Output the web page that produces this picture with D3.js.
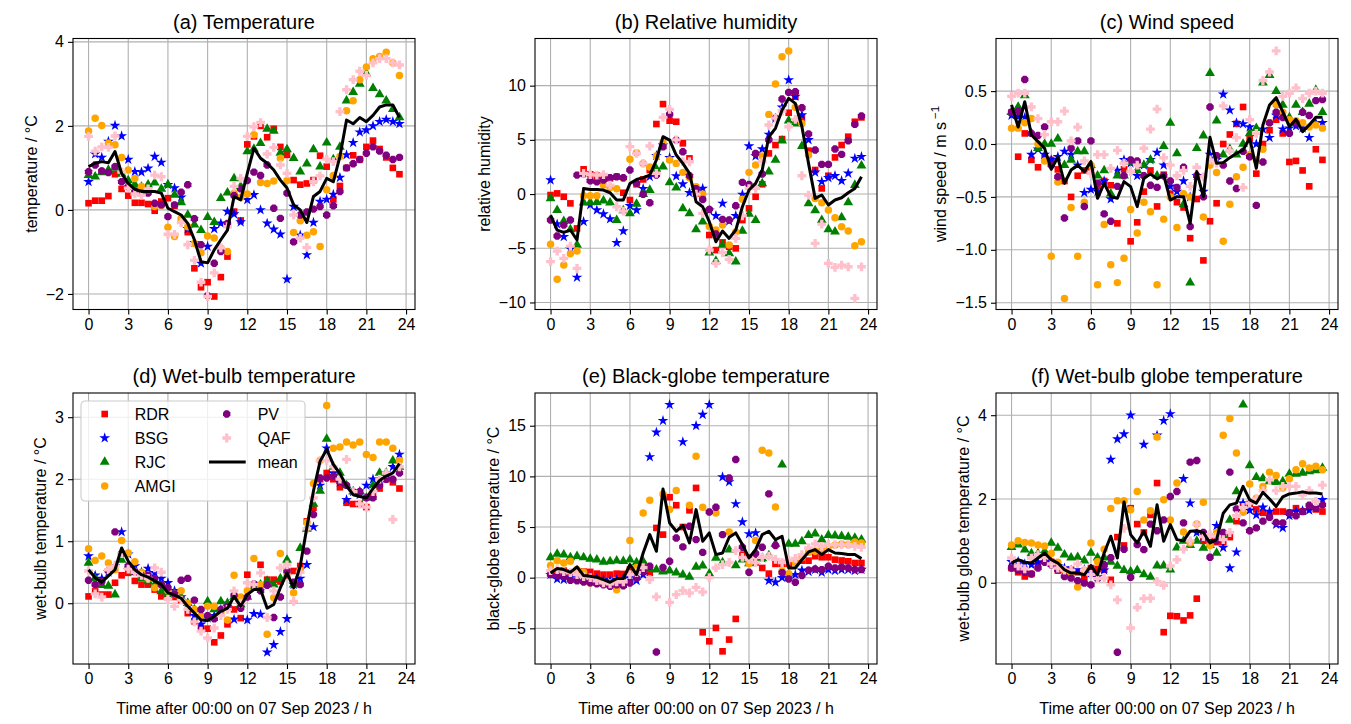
<!DOCTYPE html>
<html><head><meta charset="utf-8">
<script src="https://cdn.jsdelivr.net/npm/d3@7"></script>
<style>
body{margin:0;background:#fff}
svg{display:block}
text{font-family:"Liberation Sans",Arial,Helvetica,sans-serif;fill:#000}
</style>
</head><body>
<svg id="chart" width="1351" height="724"></svg>
<script>
// ---------------- DATA ----------------
const hours = [0,0.5,1,1.5,2,2.5,3,3.5,4,4.5,5,5.5,6,6.5,7,7.5,8,8.5,9,9.5,10,10.5,11,11.5,
               12,12.5,13,13.5,14,14.5,15,15.5,16,16.5,17,17.5,18,18.5,19,19.5,20,20.5,21,21.5,22,22.5,23,23.5];
const xTickValues = [0,3,6,9,12,15,18,21,24];
const seriesNames = ["RDR","BSG","RJC","AMGI","PV","QAF"];

// (a) Temperature
const tempRDR  = [0.16,0.22,0.22,0.33,0.85,0.5,0.34,0.17,0.17,0.14,-0.02,0.2,0.28,0.1,-0.24,-0.53,-1.39,-1.84,-1.72,-2.06,-1.6,-1.11,-0.04,-0.25,1.56,1.75,2.0,1.73,1.93,1.5,1.31,0.71,0.6,0.63,0.71,1.29,1.03,0.25,0.57,1.0,1.3,1.2,1.5,1.65,1.45,1.25,1.0,0.85];
const tempBSG  = [0.67,1.33,1.25,1.63,2.01,1.76,1.2,0.91,0.9,0.99,1.27,1.13,0.6,0.52,0.3,-0.45,-0.78,-1.27,-0.87,-0.45,-0.32,-0.04,-0.1,-0.29,0.24,0.36,0.0,-0.32,-0.46,-0.58,-1.65,0.08,-0.6,-1.07,-0.3,0.2,0.25,0.37,0.77,1.31,1.6,1.85,1.9,2.0,2.1,2.15,2.1,2.05];
const tempRJC  = [0.83,0.79,0.89,0.95,1.0,0.86,0.7,0.6,0.55,0.6,0.65,0.5,0.6,0.36,0.18,-0.12,-0.35,-0.48,-0.17,-0.29,0.28,0.41,0.75,0.56,1.39,1.45,1.59,1.93,1.88,1.36,1.44,1.23,0.91,1.1,1.44,1.03,1.6,1.2,1.5,2.6,2.8,3.0,3.25,2.9,2.75,2.6,2.4,2.2];
const tempAMGI = [1.88,2.18,2.01,1.59,1.55,1.25,0.95,0.75,0.56,0.45,0.08,0.1,-0.41,-0.63,-0.21,-0.4,-0.8,-1.02,-0.62,-0.67,-0.91,-0.99,0.4,0.3,0.38,1.79,0.65,0.63,0.69,1.23,0.7,-0.54,-0.26,-0.6,-0.52,-0.87,0.48,0.82,1.27,2.36,2.6,3.1,3.4,3.6,3.65,3.75,3.5,3.2];
const tempPV   = [0.91,1.07,0.93,0.89,1.03,0.67,0.55,0.45,0.4,0.4,0.16,0.12,-0.16,0.12,0.42,0.6,-0.21,-0.83,-2.04,-1.27,-0.99,-0.32,0.34,0.5,0.7,0.9,0.82,1.07,0.04,-0.2,0.4,-0.76,-0.12,-0.05,0.02,0.08,-0.12,0.1,0.44,1.0,1.1,1.2,1.35,1.5,1.4,1.3,1.2,1.25];
const tempQAF  = [1.75,1.4,1.5,1.49,1.76,0.9,0.52,0.38,0.35,0.5,0.83,0.79,-0.58,-0.58,-0.3,-0.83,-1.2,-1.72,-2.06,-1.5,-0.9,-0.4,0.56,0.75,1.75,1.98,2.08,1.33,1.49,1.07,0.87,-0.12,-0.67,-0.89,0.67,0.81,1.21,1.15,2.34,2.86,3.1,3.3,3.2,3.5,3.6,3.6,3.5,3.45];
const tempMean = [1.03,1.11,1.15,1.12,1.39,0.87,0.63,0.49,0.44,0.44,0.44,0.4,0.04,-0.04,-0.12,-0.32,-0.71,-1.23,-1.26,-0.95,-0.71,-0.48,0.32,0.24,0.87,1.47,1.23,1.11,0.95,0.71,0.52,0.12,0.0,-0.3,0.32,0.44,0.75,0.67,1.27,2.14,2.05,2.2,2.1,2.25,2.45,2.5,2.5,2.2];

// (b) Relative humidity
const rhRDR  = [-0.09,0.06,-0.25,-0.86,-3.17,2.28,1.82,1.7,1.5,1.45,1.6,0.12,-0.55,0.9,1.35,2.22,6.46,8.3,6.77,6.67,4.68,3.29,0.06,-0.15,-3.78,-5.17,-4.46,-4.86,-5.01,-2.4,-1.32,-0.25,0.9,3.75,4.52,5.07,7.5,8.98,7.0,4.0,2.22,0.52,1.69,3.38,4.52,5.29,6.67,7.07];
const rhBSG  = [1.29,-2.77,-3.94,-5.07,-7.69,-2.55,-1.0,-1.48,-1.84,-2.3,-4.49,-3.41,-1.08,-1.48,0.5,1.6,3.54,4.5,3.35,1.66,0.92,0.12,0.3,0.52,-1.5,-2.0,-0.86,-2.5,-2.0,-0.03,4.43,3.5,4.15,5.5,6.98,8.0,10.52,9.0,7.29,5.0,2.0,1.14,1.5,1.69,1.23,1.91,3.29,3.45];
const rhRJC  = [-0.4,-1.48,-2.5,-3.26,-4.7,-0.8,-0.77,-0.74,-0.61,-0.8,-2.4,-1.5,-1.78,-0.92,0.0,0.37,2.31,2.52,1.08,0.58,-1.32,-1.78,-3.26,-2.55,-5.41,-6.18,-4.7,-5.47,-6.24,-3.41,-1.84,-2.4,0.98,2.06,3.14,4.92,6.77,6.5,4.43,-0.86,-1.5,-2.4,-3.26,-3.47,-2.15,-0.77,0.83,2.62];
const rhAMGI = [-4.64,-7.87,-6.55,-5.5,-5.26,-0.15,-0.15,-0.15,0.83,0.6,0.5,1.45,3.2,3.81,2.83,2.5,3.5,4.74,3.14,2.83,2.0,1.5,0.68,0.0,-3.0,-3.32,-2.86,-4.7,-3.5,-0.49,2.0,2.68,3.5,7.35,10.15,12.67,13.19,8.0,6.5,3.6,-0.4,-0.8,-1.48,-2.18,-3.01,-3.41,-4.76,-4.4];
const rhPV   = [-2.4,-3.87,-2.86,-2.4,1.75,1.85,1.23,1.14,1.29,1.51,1.6,1.51,2.22,1.0,-0.03,-0.8,1.75,4.37,7.35,4.98,3.9,1.69,0.5,-0.5,-1.41,-3.69,-2.34,-2.4,-1.08,1.08,0.89,3.75,1.85,5.0,7.0,8.77,9.38,9.44,7.96,5.54,4.06,2.74,2.74,4.15,3.66,4.92,6.43,7.2];
const rhQAF  = [-6.24,-5.26,-5.93,-4.8,-6.86,1.91,1.8,1.75,1.8,0.83,-1.17,-1.57,4.37,3.75,2.83,4.43,1.91,7.07,7.81,5.0,3.0,2.98,0.0,-1.78,-5.17,-6.4,-5.41,-6.03,-4.09,-2.0,0.5,0.52,3.0,6.37,7.0,7.66,6.21,6.89,1.69,-0.09,-4.55,-2.77,-6.4,-6.77,-6.55,-6.71,-9.62,-6.71];
const rhMean = [-1.94,-3.32,-3.54,-3.32,-4.24,0.52,0.43,0.43,0.37,0.12,-0.55,-0.55,0.98,1.35,1.51,1.75,3.14,5.29,4.98,3.6,2.83,1.91,-0.71,-1.17,-2.55,-4.4,-3.41,-4.09,-3.32,-1.17,0.37,0.98,2.22,5.29,6.06,7.75,8.83,8.37,6.21,2.83,-0.4,-0.09,-1.01,-0.55,-0.34,0.12,0.52,1.6];

// (c) Wind speed
const wsRDR  = [0.3,-0.12,0.1,-0.15,-0.22,-0.13,-0.15,-0.24,-0.35,-0.5,-0.3,-0.25,-0.22,-0.4,-0.35,-0.39,-0.75,-0.24,-0.92,-0.74,-0.45,-0.25,-0.59,-0.29,-0.47,-0.55,-0.6,-0.89,-0.52,-1.1,-0.73,-0.56,0.0,0.09,0.19,0.35,0.05,-0.28,0.0,0.13,0.23,0.1,-0.17,-0.16,-0.25,-0.4,-0.05,-0.15];
const wsBSG  = [0.27,0.26,0.25,-0.1,-0.05,-0.1,-0.15,-0.12,-0.07,-0.1,-0.2,-0.46,-0.43,-0.45,-0.35,-0.52,-0.25,-0.15,-0.18,-0.3,-0.2,-0.15,-0.08,-0.2,-0.4,-0.45,-0.35,-0.5,-0.3,-0.45,-0.1,-0.15,0.47,0.32,0.2,0.19,0.16,0.0,0.14,0.06,0.27,0.14,0.15,0.17,0.15,0.06,0.2,0.2];
const wsRJC  = [0.3,0.35,0.46,0.1,-0.04,0.0,0.0,0.05,-0.2,-0.15,-0.07,-0.07,-0.2,-0.3,-0.25,-0.47,-0.3,-0.3,-0.17,-0.25,-0.2,-0.15,-0.3,-0.02,0.2,-0.09,-0.57,-1.31,-0.04,0.08,0.67,0.22,-0.1,-0.05,-0.1,0.0,0.1,0.15,0.58,0.65,0.5,0.37,0.25,0.37,0.3,0.38,0.51,0.3];
const wsAMGI = [0.15,0.15,0.2,0.24,0.0,-0.16,-1.06,-0.36,-1.46,-0.6,-1.06,-0.55,-0.2,-1.33,-0.76,-1.14,-1.31,-1.08,-0.62,-0.84,-0.55,-0.64,-1.33,-0.71,-0.5,-0.79,-0.47,-0.5,-0.3,-0.69,-0.2,-0.27,-0.92,-0.57,-0.31,-0.22,-0.1,-0.15,-0.05,0.2,0.37,0.3,0.23,0.22,0.2,0.16,0.18,0.15];
const wsPV   = [0.3,0.31,0.61,0.1,0.08,0.16,-0.2,-0.31,-0.7,-0.04,0.03,-0.59,0.03,-0.37,-0.66,-0.73,-0.4,-0.3,-0.15,-0.16,-0.3,-0.39,-0.41,-0.3,-0.35,-0.41,-0.22,-0.78,-0.3,-0.5,0.35,-0.11,-0.2,-0.35,-0.42,-0.07,-0.12,-0.58,-0.17,0.2,0.3,0.25,0.1,0.2,0.3,0.27,0.41,0.42];
const wsQAF  = [0.45,0.48,0.48,0.35,0.24,0.09,0.21,0.21,0.31,0.03,0.16,-0.16,-0.28,-0.1,-0.1,-0.23,-0.06,-0.18,-0.26,-0.2,-0.04,0.14,0.33,-0.13,-0.2,-0.3,-0.25,-0.4,-0.22,-0.31,-0.15,-0.18,0.36,-0.06,0.06,-0.41,0.23,0.1,0.6,0.68,0.88,0.45,0.48,0.53,0.43,0.48,0.5,0.48];
const wsMean = [0.37,0.16,0.4,0.085,0.022,-0.041,-0.24,-0.126,-0.372,-0.246,-0.198,-0.261,-0.167,-0.513,-0.372,-0.498,-0.513,-0.356,-0.403,-0.592,-0.324,-0.283,-0.33,-0.293,-0.53,-0.498,-0.498,-0.75,-0.261,-0.498,0.063,-0.183,-0.176,-0.129,-0.088,-0.057,0.054,-0.23,0.18,0.369,0.438,0.306,0.164,0.233,0.117,0.18,0.252,0.252];

// (d) Wet-bulb temperature
const wbRDR  = [0.11,0.19,0.14,0.14,0.33,0.45,0.49,0.36,0.3,0.3,0.22,0.11,0.15,0.1,0.05,-0.16,-0.29,-0.4,-0.41,-0.63,-0.52,-0.34,-0.1,-0.24,0.46,0.3,0.62,0.38,0.38,0.35,0.45,0.52,0.6,1.32,1.54,2.0,2.1,2.0,1.87,1.62,1.6,1.6,1.55,1.75,1.85,2.0,1.95,1.85];
const wbBSG  = [0.76,0.45,0.4,0.5,0.6,1.15,0.79,0.6,0.5,0.56,0.49,0.4,0.33,0.2,0.1,0.0,-0.2,-0.34,-0.24,-0.2,-0.1,0.0,-0.26,0.0,-0.27,-0.17,-0.18,-0.79,-0.67,-0.46,-0.25,0.3,0.4,0.62,1.23,1.9,2.5,2.1,1.95,1.67,1.8,1.75,1.9,2.0,2.0,2.1,2.2,2.4];
const wbRJC  = [0.65,0.4,0.29,0.28,0.14,0.7,0.6,0.5,0.4,0.35,0.3,0.19,0.15,0.15,0.1,0.0,-0.1,-0.2,0.03,-0.1,0.03,0.0,0.1,-0.02,0.1,0.25,0.3,0.36,0.3,0.4,0.7,0.3,0.89,1.2,1.6,1.81,2.65,2.2,2.1,1.9,1.8,1.8,1.7,1.9,2.1,2.1,2.3,2.2];
const wbAMGI = [0.88,0.69,0.76,0.65,0.54,1.01,0.81,0.67,0.5,0.4,0.25,0.3,0.2,0.15,0.2,0.0,-0.1,-0.2,-0.05,-0.05,-0.15,-0.27,0.45,0.1,0.2,0.72,0.3,-0.5,0.09,0.8,0.5,0.17,0.53,1.3,1.93,2.3,3.19,2.5,2.52,2.6,2.55,2.6,2.4,2.35,2.6,2.6,2.5,2.3];
const wbPV   = [0.37,0.3,0.35,0.52,1.15,0.8,0.6,0.5,0.45,0.45,0.4,0.3,0.25,0.15,0.37,0.4,0.05,-0.1,-0.2,-0.25,-0.1,-0.05,0.13,-0.08,0.1,0.31,0.2,0.29,-0.23,0.1,0.52,0.34,0.3,0.84,1.43,2.02,2.02,2.05,1.96,1.9,1.8,1.8,1.7,1.7,1.9,2.0,2.0,2.1];
const wbQAF  = [0.52,0.15,0.1,0.54,0.6,0.8,0.55,0.5,0.45,0.4,0.57,0.5,0.06,-0.05,0.05,-0.1,-0.3,-0.45,-0.56,-0.4,-0.2,-0.1,0.2,0.0,0.33,0.3,0.49,-0.23,0.2,0.57,0.62,0.03,0.5,1.2,1.7,2.3,2.3,2.2,2.0,2.32,1.8,1.6,1.55,1.8,2.0,2.1,1.35,2.2];
const wbMean = [0.54,0.41,0.34,0.44,0.54,0.89,0.68,0.54,0.46,0.42,0.36,0.3,0.17,0.13,0.08,-0.05,-0.16,-0.27,-0.28,-0.21,-0.13,-0.08,0.11,-0.05,0.14,0.22,0.22,-0.08,-0.02,0.25,0.49,0.25,0.6,1.22,1.81,2.29,2.48,2.24,2.09,1.89,1.75,1.72,1.7,1.85,1.98,2.05,2.1,2.25];

// (e) Black-globe temperature
const bgRDR  = [0.5,0.6,0.7,0.5,0.6,0.6,0.57,0.4,0.3,0.3,0.4,0.37,0.8,1.0,1.29,0.47,4.91,4.25,7.94,7.15,5.0,6.65,8.86,-5.39,-6.28,-4.96,-7.27,-6.11,-4.07,2.28,2.0,1.5,0.96,0.4,1.36,1.36,1.36,1.55,1.68,1.68,2.12,2.02,2.02,1.78,1.7,1.62,1.45,1.45];
const bgBSG  = [0.3,-0.13,-0.19,0.0,0.21,0.1,0.0,-0.1,-0.2,-0.3,-0.2,-0.1,0.04,-0.29,0.3,11.92,14.35,15.5,17.08,null,13.4,null,15.0,16.1,17.08,null,9.94,9.45,7.28,5.5,4.32,4.42,1.95,-0.29,-0.45,0.0,0.07,0.3,0.73,0.6,0.8,0.53,0.8,0.7,0.8,0.8,0.7,0.8];
const bgRJC  = [2.0,2.34,2.28,2.0,2.12,2.0,1.85,1.78,1.55,1.6,1.68,1.62,1.78,1.5,1.6,0.9,0.8,0.6,0.7,0.5,0.3,0.07,1.06,1.19,0.4,1.95,1.5,2.77,1.2,1.78,1.4,1.62,1.9,2.2,3.33,11.16,3.33,3.33,3.59,4.19,4.35,3.76,4.19,4.15,4.09,4.02,3.92,3.76];
const bgAMGI = [1.2,1.68,1.45,1.62,0.8,0.53,-0.52,-0.5,-0.6,-0.7,-1.18,-0.5,3.66,1.0,6.39,7.64,null,8.27,6.72,8.6,null,7.15,11.99,6.95,null,6.39,null,4.52,null,null,1.39,3.66,12.58,12.31,6.98,0.63,0.4,1.5,2.0,2.5,2.6,2.77,3.1,3.2,3.33,3.27,3.53,3.43];
const bgPV   = [0.3,0.2,0.1,-0.26,-0.3,-0.42,-0.5,-0.6,-0.7,-0.85,-0.7,-0.79,-0.52,-0.03,0.63,1.13,-7.33,1.0,1.62,3.92,3.04,5.08,3.76,2.5,6.49,6.95,4.25,9.84,11.66,3.0,0.53,2.38,3.0,8.27,3.17,0.5,-0.13,-0.45,0.21,0.73,0.86,0.8,1.13,0.96,1.06,0.96,0.8,0.8];
const bgQAF  = [0.7,0.8,0.6,0.5,0.3,0.1,0.0,-0.3,-0.5,-0.6,-0.4,-0.4,0.3,0.5,1.0,-0.19,-1.9,null,-2.43,-1.67,-1.28,-1.51,-0.95,-1.41,0.0,0.96,1.29,1.5,2.67,2.0,1.8,1.5,2.0,2.12,1.8,1.5,1.72,1.9,2.28,2.93,3.33,3.1,3.27,3.27,3.27,3.27,3.1,3.0];
const bgMean = [0.47,0.9,0.8,0.53,1.06,0.21,0.14,0.04,-0.19,-0.45,-0.09,-0.09,1.29,0.3,2.44,4.25,2.61,8.76,5.4,4.58,5.17,3.43,6.72,3.59,4.42,2.28,2.44,3.99,4.42,3.27,1.95,2.77,4.25,4.58,3.76,4.09,0.96,0.96,1.78,2.54,2.77,2.28,2.77,2.44,2.38,2.28,2.28,1.88];

// (f) Wet-bulb globe temperature
const wbgtRDR  = [0.35,0.25,0.15,0.21,0.45,0.67,0.5,0.29,0.3,0.31,0.25,0.1,0.35,0.33,0.31,0.07,1.09,0.89,1.78,1.4,1.2,1.62,2.38,-1.18,-0.79,-0.8,-0.9,-0.78,-0.38,1.0,1.0,0.97,0.97,1.09,1.47,1.86,1.88,1.75,1.67,1.62,1.7,1.7,1.67,1.78,1.7,1.82,1.75,1.7];
const wbgtBSG  = [0.5,0.51,0.45,0.43,0.49,0.6,0.5,0.4,0.35,0.3,0.31,0.31,0.23,0.14,0.3,2.94,3.43,3.55,4.0,null,3.3,null,3.52,3.87,4.03,null,2.48,1.9,1.2,1.1,1.0,1.36,0.84,0.35,0.73,1.9,1.73,1.62,1.8,1.7,1.39,1.31,1.6,1.7,1.72,1.73,1.8,1.98];
const wbgtRJC  = [0.85,0.91,0.79,0.7,0.7,0.75,0.95,0.83,0.67,0.6,0.61,0.53,0.71,0.6,0.6,0.5,0.4,0.3,0.27,0.3,0.2,0.14,0.41,0.41,0.31,0.84,1.0,0.9,1.0,0.83,0.9,0.71,1.12,1.5,2.18,4.25,2.8,2.52,2.49,2.42,2.4,2.42,2.6,2.6,2.62,2.66,2.68,2.74];
const wbgtAMGI = [0.9,1.0,0.96,0.95,0.9,0.88,0.7,0.49,0.3,0.2,-0.1,0.3,0.95,0.5,0.8,1.77,1.96,1.96,1.74,2.18,1.5,1.72,3.48,1.98,1.5,2.38,1.21,0.95,1.4,1.92,0.89,1.2,3.52,3.92,3.1,1.68,2.36,2.02,2.3,2.64,2.56,2.26,2.48,2.7,2.84,2.74,2.78,2.7];
const wbgtPV   = [0.35,0.3,0.25,0.21,0.35,0.49,0.43,0.31,0.15,0.11,0.05,-0.01,-0.05,0.1,0.43,0.6,-1.66,0.8,0.13,0.91,0.79,1.4,1.24,1.5,2.06,2.18,1.43,2.88,2.92,1.2,0.61,1.0,1.2,2.64,1.76,1.43,1.24,1.31,1.47,1.56,1.44,1.43,1.67,1.6,1.7,1.85,1.78,1.86];
const wbgtQAF  = [0.59,0.4,0.33,0.59,0.67,0.6,0.45,0.35,0.3,0.3,0.45,0.3,0.2,0.1,0.11,-0.05,-0.41,1.3,-1.08,-0.59,-0.38,-0.37,0.03,-0.06,0.4,0.55,0.8,1.0,1.39,1.1,1.15,1.1,1.03,1.2,1.6,1.8,1.9,2.0,2.2,2.46,2.2,2.3,2.3,2.3,2.1,2.2,1.94,2.33];
const wbgtMean = [0.47,0.55,0.49,0.47,0.59,0.71,0.55,0.47,0.31,0.23,0.23,0.19,0.41,0.19,0.71,1.11,0.59,1.93,1.15,0.95,1.23,0.87,1.86,0.99,1.39,1.03,1.0,1.23,1.24,1.2,0.95,1.03,1.66,1.86,1.9,2.3,1.98,1.9,2.16,2.0,1.82,2.05,2.12,2.14,2.17,2.14,2.14,2.12];

// ---------------- CONFIG ----------------
const colors = {RDR:"#ff0000",BSG:"#0000ff",RJC:"#008000",AMGI:"#ffa500",PV:"#800080",QAF:"#ffc0cb"};
const panels = [
  {title:"(a) Temperature", ylabel:["temperature / °C"], col:0,row:0, domain:[-2.37,4.08], ticks:[-2,0,2,4], dec:0,
   s:[tempRDR,tempBSG,tempRJC,tempAMGI,tempPV,tempQAF], mean:tempMean},
  {title:"(b) Relative humidity", ylabel:["relative humidity"], col:1,row:0, domain:[-10.65,14.35], ticks:[-10,-5,0,5,10], dec:0,
   s:[rhRDR,rhBSG,rhRJC,rhAMGI,rhPV,rhQAF], mean:rhMean},
  {title:"(c) Wind speed", ylabel:["wind speed / m s","−1"], col:2,row:0, domain:[-1.564,0.997], ticks:[-1.5,-1,-0.5,0,0.5], dec:1,
   s:[wsRDR,wsBSG,wsRJC,wsAMGI,wsPV,wsQAF], mean:wsMean},
  {title:"(d) Wet-bulb temperature", ylabel:["wet-bulb temperature / °C"], col:0,row:1, domain:[-0.98,3.39], ticks:[0,1,2,3], dec:0,
   s:[wbRDR,wbBSG,wbRJC,wbAMGI,wbPV,wbQAF], mean:wbMean, legend:true},
  {title:"(e) Black-globe temperature", ylabel:["black-globe temperature / °C"], col:1,row:1, domain:[-8.52,18.23], ticks:[-5,0,5,10,15], dec:0,
   s:[bgRDR,bgBSG,bgRJC,bgAMGI,bgPV,bgQAF], mean:bgMean},
  {title:"(f) Wet-bulb globe temperature", ylabel:["wet-bulb globe temperature / °C"], col:2,row:1, domain:[-1.94,4.53], ticks:[0,2,4], dec:0,
   s:[wbgtRDR,wbgtBSG,wbgtRJC,wbgtAMGI,wbgtPV,wbgtQAF], mean:wbgtMean}
];
const X0=[73,535,996], Y0=[38.5,393], W=342, H=271;
const xlabelText = "Time after 00:00 on 07 Sep 2023 / h";

// ---------------- MARKERS ----------------
function octagon(r){let p="";for(let k=0;k<8;k++){const a=Math.PI/8+k*Math.PI/4;p+=(k?"L":"M")+(r*Math.cos(a)).toFixed(2)+","+(r*Math.sin(a)).toFixed(2);}return p+"Z";}
function plusP(r){const b=r*0.38,a=r;return `M${-b},${-a}L${b},${-a}L${b},${-b}L${a},${-b}L${a},${b}L${b},${b}L${b},${a}L${-b},${a}L${-b},${b}L${-a},${b}L${-a},${-b}L${-b},${-b}Z`;}
const markerPath = {
  RDR: d3.symbol(d3.symbolSquare, 44)(),
  BSG: d3.symbol(d3.symbolStar, 36)(),
  RJC: d3.symbol(d3.symbolTriangle, 42)(),
  AMGI: d3.symbol(d3.symbolCircle, 44)(),
  PV: octagon(4.0),
  QAF: plusP(4.4)
};

const fmtTick = (d,dec)=> (d<0?"\u2212":"") + Math.abs(d).toFixed(dec);

// ---------------- DRAW ----------------
const svg = d3.select("#chart");
svg.append("rect").attr("width",1351).attr("height",724).attr("fill","#fff");

panels.forEach(p=>{
  const g = svg.append("g").attr("transform",`translate(${X0[p.col]},${Y0[p.row]})`);
  const x = d3.scaleLinear().domain([-1.175,24.675]).range([0,W]);
  const y = d3.scaleLinear().domain(p.domain).range([H,0]);

  // grid
  g.append("g").selectAll("line").data(xTickValues).join("line")
    .attr("x1",d=>x(d)).attr("x2",d=>x(d)).attr("y1",0).attr("y2",H)
    .attr("stroke","#b0b0b0").attr("stroke-width",1.1);
  g.append("g").selectAll("line").data(p.ticks).join("line")
    .attr("x1",0).attr("x2",W).attr("y1",d=>y(d)).attr("y2",d=>y(d))
    .attr("stroke","#b0b0b0").attr("stroke-width",1.1);

  // axes
  const xa = g.append("g").attr("transform",`translate(0,${H})`)
    .call(d3.axisBottom(x).tickValues(xTickValues).tickSize(5).tickPadding(4).tickFormat(d=>d));
  const ya = g.append("g")
    .call(d3.axisLeft(y).tickValues(p.ticks).tickSize(5).tickPadding(4).tickFormat(d=>fmtTick(d,p.dec)));
  [xa,ya].forEach(a=>{
    a.select(".domain").remove();
    a.selectAll(".tick line").attr("stroke","#000").attr("stroke-width",1.1);
    a.selectAll(".tick text").attr("font-size",16).attr("font-family",'"Liberation Sans",Arial,sans-serif').attr("fill","#000");
  });

  // points
  seriesNames.forEach((name,si)=>{
    const vals = p.s[si];
    const pts = hours.map((h,i)=>({h,v:vals[i]})).filter(d=>d.v!==null && d.v!==undefined);
    g.append("g").selectAll("path").data(pts).join("path")
      .attr("d",markerPath[name])
      .attr("transform",d=>`translate(${x(d.h)},${y(d.v)})`)
      .attr("fill",colors[name]);
  });

  // mean line
  const line = d3.line().defined(d=>d.v!==null).x(d=>x(d.h)).y(d=>y(d.v));
  g.append("path").datum(hours.map((h,i)=>({h,v:p.mean[i]})))
    .attr("d",line).attr("fill","none").attr("stroke","#000").attr("stroke-width",3)
    .attr("stroke-linejoin","round").attr("stroke-linecap","butt");

  // frame
  g.append("rect").attr("width",W).attr("height",H).attr("fill","none")
    .attr("stroke","#000").attr("stroke-width",1.1);

  // title
  g.append("text").attr("x",W/2).attr("y",-10).attr("text-anchor","middle")
    .attr("font-size",20).text(p.title);

  // y label
  let maxW = 0;
  ya.selectAll(".tick text").each(function(){ maxW = Math.max(maxW, this.getComputedTextLength()); });
  const lx = -5 - 4 - maxW - 9;
  const yl = g.append("text").attr("transform",`translate(${lx},${H/2}) rotate(-90)`)
    .attr("text-anchor","middle").attr("font-size",16);
  yl.append("tspan").text(p.ylabel[0]);
  if(p.ylabel.length>1){
    yl.append("tspan").attr("dy",-7).attr("dx",3).attr("font-size",11.5).text(p.ylabel[1]);
  }

  // x label on bottom row
  if(p.row===1){
    g.append("text").attr("x",W/2).attr("y",H+50).attr("text-anchor","middle")
      .attr("font-size",16).text(xlabelText);
  }

  // legend
  if(p.legend){
    const lg = g.append("g").attr("transform","translate(8,8)");
    lg.append("rect").attr("width",224).attr("height",100).attr("rx",4)
      .attr("fill","#fff").attr("fill-opacity",0.8).attr("stroke","#cccccc").attr("stroke-width",1.1);
    const items = [
      {n:"RDR",c:0,r:0},{n:"BSG",c:0,r:1},{n:"RJC",c:0,r:2},{n:"AMGI",c:0,r:3},
      {n:"PV",c:1,r:0},{n:"QAF",c:1,r:1},{n:"mean",c:1,r:2}
    ];
    items.forEach(it=>{
      const cy = 13 + it.r*24;
      const mx = it.c===0 ? 23.7 : 145.7;
      const tx = it.c===0 ? 53.7 : 176.7;
      if(it.n==="mean"){
        lg.append("line").attr("x1",128).attr("x2",164.7).attr("y1",cy).attr("y2",cy)
          .attr("stroke","#000").attr("stroke-width",3);
      } else {
        lg.append("path").attr("d",markerPath[it.n]).attr("transform",`translate(${mx},${cy})`)
          .attr("fill",colors[it.n]);
      }
      lg.append("text").attr("x",tx).attr("y",cy+5.8).attr("font-size",16).text(it.n);
    });
  }
});
</script>
</body></html>
